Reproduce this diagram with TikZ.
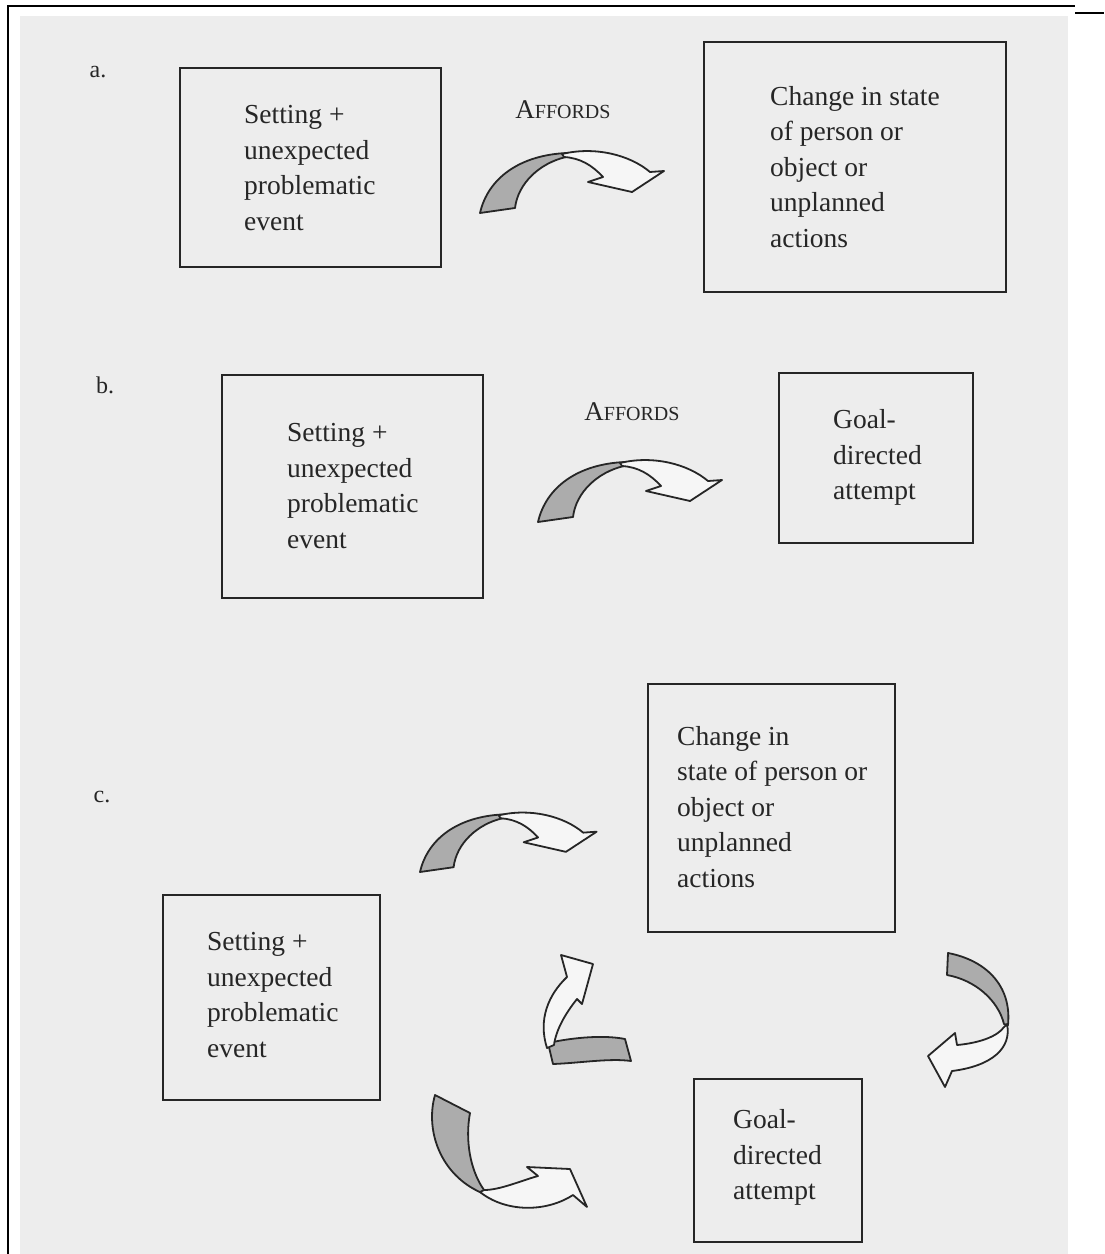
\documentclass[tikz,border=0pt]{standalone}
\usepackage{fontspec}
\setmainfont{Liberation Serif}
\definecolor{paper}{RGB}{237,237,237}
\definecolor{ink}{RGB}{38,38,38}
\definecolor{shade}{RGB}{172,172,172}
\definecolor{blank}{RGB}{246,246,246}
\begin{document}
\begin{tikzpicture}[x=1pt,y=-1pt,
  box/.style={draw=ink, line width=2.4pt, fill=paper, inner sep=0pt, rectangle},
  boxtext/.style={anchor=north west, inner sep=0pt, align=left, text=ink,
    font=\fontsize{27.5}{35.5}\selectfont},
  partlabel/.style={anchor=center, inner sep=0pt, text=ink, font=\fontsize{24}{28}\selectfont},
  affords/.style={anchor=center, inner sep=0pt, text=ink},
  arrowline/.style={draw=ink, line width=1.8pt, line join=round},
  frame/.style={draw=black, line width=1.6pt},
  ribbon/.pic={
    % shaded underside of the twisted ribbon
    \filldraw[arrowline, fill=shade] (0,0) .. controls (8,-35) and (40,-58) .. (87,-60)
      -- (86,-56) .. controls (60,-50) and (38,-30) .. (35,-5) -- cycle;
    % white upper face with the foreshortened head
    \filldraw[arrowline, fill=blank] (82,-59) .. controls (115,-67) and (150,-58) .. (170,-41)
      -- (184,-42) -- (152,-21) -- (108,-31) -- (123,-36)
      .. controls (112,-48) and (100,-55) .. (84,-56) -- cycle;
  }]
\useasboundingbox (0,0) rectangle (1104,1254);
% page
\fill[paper] (20,16) rectangle (1068,1254);
\draw[frame] (8,1254) -- (8,6) -- (1075,6);
\draw[frame] (1075,13) -- (1104,13);

% ---------- part a ----------
\node[partlabel] (la) at (98,72) {a.};
\node[box, minimum width=261pt, minimum height=199pt] (a1) at (310.5,167.5) {};
\node[box, minimum width=302pt, minimum height=250pt] (a2) at (855,167) {};
\node[boxtext] (ta1) at (244,105.5) {Setting +\\unexpected\\problematic\\event};
\node[boxtext] (ta2) at (770,86) {Change in state\\of person or\\object or\\unplanned\\actions};
\node[affords] (fa) at (563,110) {{\fontsize{27}{30}\selectfont A}{\fontsize{20}{30}\selectfont FFORDS}};
\pic (ra) at (480,213) {ribbon};

% ---------- part b ----------
\node[partlabel] (lb) at (105,385) {b.};
\node[box, minimum width=261pt, minimum height=223pt] (b1) at (352.5,486.5) {};
\node[box, minimum width=194pt, minimum height=170pt] (b2) at (876,458) {};
\node[boxtext] (tb1) at (287,423.5) {Setting +\\unexpected\\problematic\\event};
\node[boxtext] (tb2) at (833,409.5) {Goal-\\directed\\attempt};
\node[affords] (fb) at (632,412) {{\fontsize{27}{30}\selectfont A}{\fontsize{20}{30}\selectfont FFORDS}};
\pic (rb) at (538,522) {ribbon};

% ---------- part c ----------
\node[partlabel] (lc) at (102,797) {c.};
\node[box, minimum width=247pt, minimum height=248pt] (c1) at (771.5,808) {};
\node[box, minimum width=217pt, minimum height=205pt] (c2) at (271.5,997.5) {};
\node[box, minimum width=168pt, minimum height=163pt] (c3) at (778,1160.5) {};
\node[boxtext] (tc1) at (677,726) {Change in\\state of person or\\object or\\unplanned\\actions};
\node[boxtext] (tc2) at (207,932.5) {Setting +\\unexpected\\problematic\\event};
\node[boxtext] (tc3) at (733,1109.5) {Goal-\\directed\\attempt};

% setting -> change
\pic[scale=0.96] (rc1) at (420,872) {ribbon};

% goal -> change (centre, rising)
\filldraw[arrowline, fill=shade] (548,1043) .. controls (575,1037) and (605,1035) .. (625,1039)
  -- (631,1061) .. controls (610,1058) and (580,1063) .. (553,1064) -- cycle;
\filldraw[arrowline, fill=blank] (547,1048) .. controls (538,1020) and (548,995) .. (567,977)
  -- (561,955) -- (593,964) -- (582,1004) -- (577,999)
  .. controls (565,1014) and (556,1030) .. (554,1045) -- cycle;

% change -> goal (right, turning back)
\filldraw[arrowline, fill=shade] (948,953) .. controls (985,960) and (1012,985) .. (1008,1025)
  -- (1004,1024) .. controls (998,1000) and (975,980) .. (947,975) -- cycle;
\filldraw[arrowline, fill=blank] (1007,1024) .. controls (1012,1048) and (992,1066) .. (952,1071)
  -- (945,1087) -- (928,1056) -- (955,1033) -- (957,1045)
  .. controls (980,1043) and (998,1036) .. (1004,1027) -- cycle;

% setting -> goal (bottom left)
\filldraw[arrowline, fill=shade] (435,1095) .. controls (425,1130) and (440,1175) .. (482,1193)
  -- (484,1190) .. controls (470,1170) and (465,1140) .. (470,1113) -- cycle;
\filldraw[arrowline, fill=blank] (480,1192) .. controls (505,1212) and (545,1213) .. (573,1195)
  -- (587,1207) -- (570,1169) -- (527,1167) -- (538,1176)
  .. controls (520,1181) and (500,1190) .. (484,1190) -- cycle;
\end{tikzpicture}
\end{document}
